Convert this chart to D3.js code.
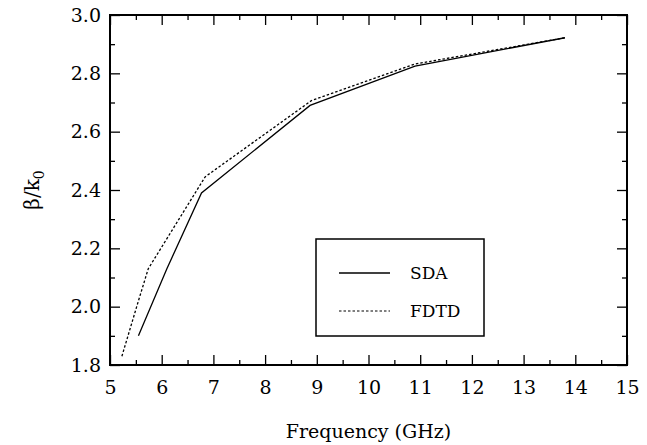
<!DOCTYPE html>
<html>
<head>
<meta charset="utf-8">
<script src="https://cdn.jsdelivr.net/npm/d3@7"></script>
<style>
  body { margin: 0; background: #fff; }
  svg { display: block; font-family: "DejaVu Serif", "Liberation Serif", serif; }
  .axis path { display: none; }
  .axis line { stroke: #000; stroke-width: 1.3px; }
</style>
</head>
<body>
<svg id="chart" width="647" height="445"></svg>
<script>
// values
const sdaFreq  = [5.55, 6.1, 6.77, 8.87, 10.9, 13.8];
const sdaBeta  = [1.90, 2.13, 2.39, 2.69, 2.825, 2.922];
const fdtdFreq = [5.23, 5.55, 5.74, 6.84, 8.9, 10.9, 13.8];
const fdtdBeta = [1.83, 2.02, 2.13, 2.445, 2.707, 2.832, 2.922];

const xTicks = [5, 6, 7, 8, 9, 10, 11, 12, 13, 14, 15];
const yTicks = [1.8, 2.0, 2.2, 2.4, 2.6, 2.8, 3.0];
const xMinor = d3.range(5.5, 15, 1);
const yMinor = d3.range(1.9, 3.0, 0.2);

const legendItems = [
  { name: "SDA", dash: null },
  { name: "FDTD", dash: "2.5,2" }
];

const W = 647, H = 445;
const m = { top: 15, right: 20, bottom: 80, left: 110 };
const FONT = "DejaVu Serif";

const svg = d3.select("#chart");

const x = d3.scaleLinear().domain([5, 15]).range([m.left, W - m.right]);
const y = d3.scaleLinear().domain([1.8, 3.0]).range([H - m.bottom, m.top]);

// axes: ticks point inward, on all four sides
function serif(g) { g.attr("font-family", FONT).attr("font-size", 19); }

svg.append("g").attr("class", "axis")
  .attr("transform", `translate(0,${H - m.bottom})`)
  .call(d3.axisBottom(x).tickValues(xTicks).tickSize(-10).tickPadding(16).tickFormat(d3.format("d")))
  .call(serif);
svg.append("g").attr("class", "axis")
  .attr("transform", `translate(0,${H - m.bottom})`)
  .call(d3.axisBottom(x).tickValues(xMinor).tickSize(-5).tickFormat(""));
svg.append("g").attr("class", "axis")
  .attr("transform", `translate(0,${m.top})`)
  .call(d3.axisTop(x).tickValues(xTicks).tickSize(-10).tickFormat(""));
svg.append("g").attr("class", "axis")
  .attr("transform", `translate(0,${m.top})`)
  .call(d3.axisTop(x).tickValues(xMinor).tickSize(-5).tickFormat(""));

svg.append("g").attr("class", "axis")
  .attr("transform", `translate(${m.left},0)`)
  .call(d3.axisLeft(y).tickValues(yTicks).tickSize(-10).tickPadding(9).tickFormat(d3.format(".1f")))
  .call(serif);
svg.append("g").attr("class", "axis")
  .attr("transform", `translate(${m.left},0)`)
  .call(d3.axisLeft(y).tickValues(yMinor).tickSize(-5).tickFormat(""));
svg.append("g").attr("class", "axis")
  .attr("transform", `translate(${W - m.right},0)`)
  .call(d3.axisRight(y).tickValues(yTicks).tickSize(-10).tickFormat(""));
svg.append("g").attr("class", "axis")
  .attr("transform", `translate(${W - m.right},0)`)
  .call(d3.axisRight(y).tickValues(yMinor).tickSize(-5).tickFormat(""));

// frame
svg.append("rect")
  .attr("x", m.left).attr("y", m.top)
  .attr("width", W - m.left - m.right).attr("height", H - m.top - m.bottom)
  .attr("fill", "none").attr("stroke", "#000").attr("stroke-width", 2);

const line = d3.line().x(d => x(d[0])).y(d => y(d[1]));

svg.append("path")
  .datum(sdaFreq.map((f, i) => [f, sdaBeta[i]]))
  .attr("d", line)
  .attr("fill", "none").attr("stroke", "#000").attr("stroke-width", 1.3);

svg.append("path")
  .datum(fdtdFreq.map((f, i) => [f, fdtdBeta[i]]))
  .attr("d", line)
  .attr("fill", "none").attr("stroke", "#000").attr("stroke-width", 1.3)
  .attr("stroke-dasharray", "2.5,2");

// legend
const lg = svg.append("g").attr("transform", "translate(316,239)");
lg.append("rect").attr("width", 168).attr("height", 97)
  .attr("fill", "#fff").attr("stroke", "#000").attr("stroke-width", 1.5);
legendItems.forEach((it, i) => {
  const ly = 34 + i * 38;
  lg.append("line").attr("x1", 23).attr("x2", 74).attr("y1", ly).attr("y2", ly)
    .attr("stroke", "#000").attr("stroke-width", it.dash ? 1 : 1.3)
    .attr("stroke-dasharray", it.dash);
  lg.append("text").attr("x", 94).attr("y", ly + 6)
    .attr("font-family", FONT).attr("font-size", 17).text(it.name);
});

// axis titles
svg.append("text")
  .attr("x", (m.left + W - m.right) / 2).attr("y", 438)
  .attr("text-anchor", "middle").attr("font-family", FONT).attr("font-size", 19)
  .text("Frequency (GHz)");

const yl = svg.append("text")
  .attr("transform", `translate(39,${(m.top + H - m.bottom) / 2}) rotate(-90)`)
  .attr("text-anchor", "middle").attr("font-family", FONT).attr("font-size", 20);
yl.append("tspan").text("β/k");
yl.append("tspan").attr("font-size", 14).attr("dy", 5).text("0");
</script>
</body>
</html>
